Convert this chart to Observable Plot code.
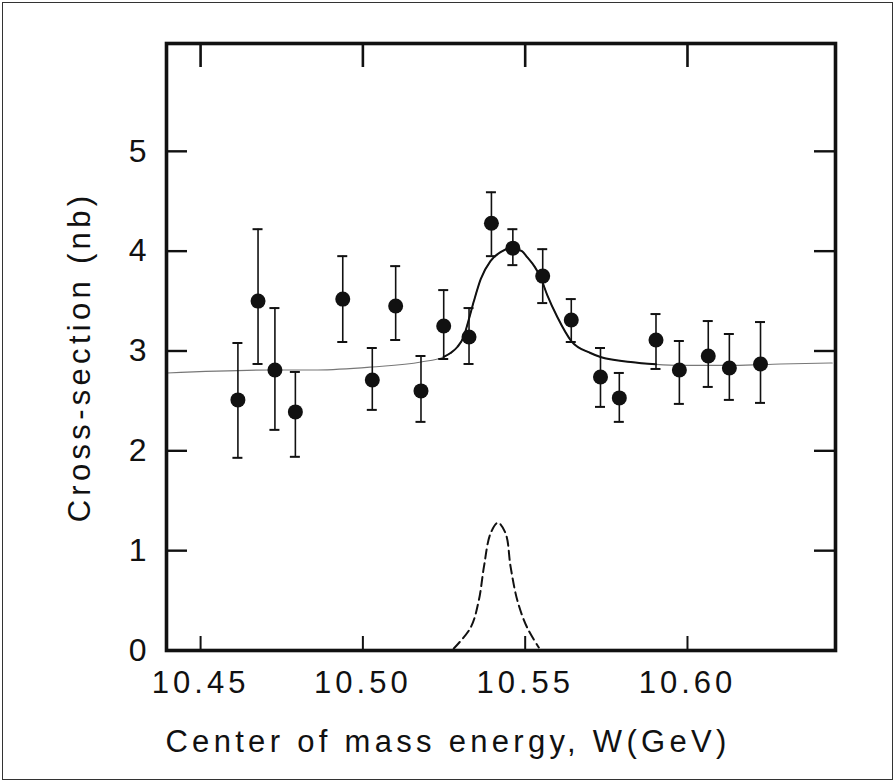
<!DOCTYPE html>
<html>
<head>
<meta charset="utf-8">
<script src="https://cdn.jsdelivr.net/npm/d3@7"></script>
<script src="https://cdn.jsdelivr.net/npm/@observablehq/plot@0.6"></script>
<style>
  html, body { margin: 0; padding: 0; background: #fff; }
  #wrap { position: relative; width: 895px; height: 782px; }
  #border { position: absolute; left: 2px; top: 2px; right: 2px; bottom: 2px; border: 1.5px solid #333; pointer-events: none; }
</style>
</head>
<body>
<div id="wrap"><div id="border"></div></div>
<script>
const energy = [10.4615, 10.4677, 10.4729, 10.4792, 10.4938, 10.5029, 10.5101, 10.5179, 10.5249, 10.5327, 10.5396, 10.5462, 10.5554, 10.5642, 10.5732, 10.5790, 10.5903, 10.5975, 10.6064, 10.6129, 10.6225];
const sigma  = [2.51, 3.50, 2.81, 2.39, 3.52, 2.71, 3.45, 2.60, 3.25, 3.14, 4.28, 4.03, 3.75, 3.31, 2.74, 2.53, 3.11, 2.81, 2.95, 2.83, 2.87];
const errHi  = [3.08, 4.22, 3.43, 2.79, 3.95, 3.03, 3.85, 2.95, 3.61, 3.43, 4.59, 4.22, 4.02, 3.52, 3.03, 2.78, 3.37, 3.10, 3.30, 3.17, 3.29];
const errLo  = [1.93, 2.87, 2.21, 1.94, 3.09, 2.41, 3.11, 2.29, 2.92, 2.87, 3.95, 3.86, 3.48, 3.09, 2.44, 2.29, 2.82, 2.47, 2.64, 2.51, 2.48];

// Fitted curve (solid)
const fitW = [10.4397, 10.4725, 10.4860, 10.5029, 10.5179, 10.5249, 10.5270, 10.5291, 10.5310, 10.5325, 10.5342, 10.5363, 10.5393, 10.5424, 10.5460, 10.5490, 10.5506, 10.5530, 10.5547, 10.5568, 10.5599, 10.5642, 10.5701, 10.5732, 10.5825, 10.5903, 10.5979, 10.6143, 10.6287, 10.6446];
const fitS = [2.78, 2.81, 2.81, 2.84, 2.89, 2.94, 2.98, 3.04, 3.14, 3.30, 3.50, 3.72, 3.90, 3.99, 4.03, 4.00, 3.94, 3.84, 3.74, 3.56, 3.34, 3.10, 2.98, 2.94, 2.89, 2.866, 2.856, 2.856, 2.87, 2.88];

// Resonance contribution (dashed)
const resW = [10.5280, 10.5332, 10.5357, 10.5373, 10.5393, 10.5416, 10.5440, 10.5455, 10.5476, 10.5506, 10.5542];
const resS = [0.02, 0.23, 0.50, 0.84, 1.17, 1.28, 1.17, 0.84, 0.50, 0.23, 0.03];

// Axes
const xTicks = [10.45, 10.50, 10.55, 10.60];
const xTickLabels = ["10.45", "10.50", "10.55", "10.60"];
const yTicks = [0, 1, 2, 3, 4, 5];
const yFrameTicks = [1, 2, 3, 4, 5];
const xTitle = "Center of mass energy, W(GeV)";
const yTitle = "Cross-section (nb)";

const points = energy.map((w, i) => ({w, s: sigma[i], lo: errLo[i], hi: errHi[i]}));
const fit = fitW.map((w, i) => ({w, s: fitS[i]}));
const fitCore = fit.filter(d => d.w >= 10.522 && d.w <= 10.592);
const res = resW.map((w, i) => ({w, s: resS[i]}));

const W = 895, H = 782;
const mL = 166, mR = 60, mT = 43, mB = 132;
const fw = W - mL - mR, fh = H - mT - mB;
const font = "'Liberation Sans', 'DejaVu Sans', sans-serif";

const chart = Plot.plot({
  width: W,
  height: H,
  marginLeft: mL,
  marginRight: mR,
  marginTop: mT,
  marginBottom: mB,
  style: {fontFamily: font, color: "#111", background: "transparent", overflow: "visible"},
  x: {domain: [10.4395, 10.6456]},
  y: {domain: [0, 6.08]},
  marks: [
    // inward frame ticks
    Plot.tickY(yFrameTicks, {y: d => d, insetRight: fw - 21, stroke: "#111", strokeWidth: 2.4}),
    Plot.tickY(yFrameTicks, {y: d => d, insetLeft: fw - 21, stroke: "#111", strokeWidth: 2.4}),
    Plot.tickX(xTicks, {x: d => d, insetBottom: fh - 24, stroke: "#111", strokeWidth: 2.6}),
    Plot.tickX(xTicks, {x: d => d, insetTop: fh - 14, stroke: "#111", strokeWidth: 2}),
    // tick labels
    Plot.axisY(yTicks, {anchor: "left", tickSize: 0, tickPadding: 20, fontSize: 32, tickFormat: d => String(d), fill: "#111"}),
    Plot.axisX(xTicks, {anchor: "bottom", tickSize: 0, tickPadding: 20, fontSize: 31, tickFormat: (d, i) => xTickLabels[i], fill: "#111", label: null}),
    // titles
    Plot.text([xTitle], {text: d => d, frameAnchor: "bottom", textAnchor: "middle", dx: -53, dy: 92, fontSize: 31, fill: "#111", lineAnchor: "middle"}),
    Plot.text([yTitle], {text: d => d, frameAnchor: "left", textAnchor: "middle", rotate: -90, dx: -86, dy: 10, fontSize: 31, fill: "#111", lineAnchor: "middle"}),
    // resonance (dashed)
    Plot.line(res, {x: "w", y: "s", curve: "catmull-rom", stroke: "#111", strokeWidth: 2, strokeDasharray: "9,5"}),
    // fitted curve
    Plot.line(fit, {x: "w", y: "s", curve: "monotone-x", stroke: "#777", strokeWidth: 1.1}),
    Plot.line(fitCore, {x: "w", y: "s", curve: "monotone-x", stroke: "#111", strokeWidth: 2}),
    // error bars
    Plot.ruleX(points, {x: "w", y1: "lo", y2: "hi", stroke: "#111", strokeWidth: 1.6}),
    Plot.ruleY(points, {y: "hi", x1: "w", x2: "w", insetLeft: -5, insetRight: -5, stroke: "#111", strokeWidth: 2}),
    Plot.ruleY(points, {y: "lo", x1: "w", x2: "w", insetLeft: -5, insetRight: -5, stroke: "#111", strokeWidth: 2}),
    // data points
    Plot.dot(points, {x: "w", y: "s", r: 7.5, fill: "#111", stroke: "none"}),
    // frame
    Plot.frame({stroke: "#111", strokeWidth: 3.6})
  ]
});
// hand-lettered look: wider letter spacing
const sel = d3.select(chart);
sel.selectAll('g[aria-label="x-axis tick label"] text').style("letter-spacing", "4px");
sel.selectAll('g[aria-label="text"] text').style("letter-spacing", "4.3px");
document.getElementById("wrap").prepend(chart);
</script>
</body>
</html>
